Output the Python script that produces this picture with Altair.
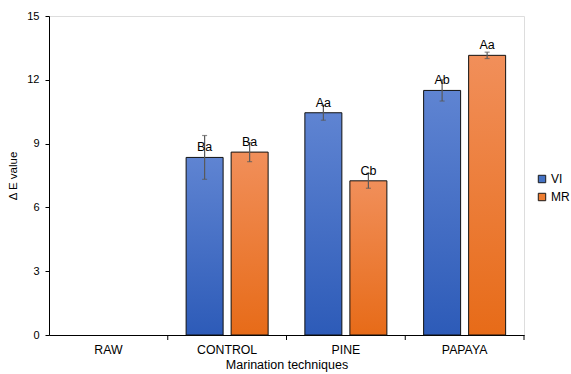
import altair as alt
import pandas as pd

categories = ["RAW", "CONTROL", "PINE", "PAPAYA"]
series = ["VI", "MR"]
bar_cats = ["CONTROL", "CONTROL", "PINE", "PINE", "PAPAYA", "PAPAYA"]
bar_series = ["VI", "MR", "VI", "MR", "VI", "MR"]
values = [8.35, 8.6, 10.45, 7.25, 11.5, 13.15]
errors = [1.03, 0.45, 0.35, 0.35, 0.5, 0.15]
letters = ["Ba", "Ba", "Aa", "Cb", "Ab", "Aa"]

df = pd.DataFrame({
    "cat": bar_cats, "series": bar_series, "value": values,
    "err": errors, "label": letters,
})
df["lo"] = df["value"] - df["err"]
df["hi"] = df["value"] + df["err"]
cats_df = pd.DataFrame({"cat": categories})

FONT = "Liberation Sans"
W, H = 475, 319

x = alt.X("cat:N", scale=alt.Scale(domain=categories, paddingInner=0, paddingOuter=0),
          axis=alt.Axis(title="Marination techniques", labelAngle=0, ticks=False,
                        domainColor="#000000", labelColor="#000000", labelFontSize=12.3,
                        labelFont=FONT, titleFont=FONT, titleFontSize=12.5,
                        titleFontWeight="normal", titleColor="#000000",
                        labelPadding=8, titlePadding=3))
xo = alt.XOffset("series:N", scale=alt.Scale(domain=series, paddingInner=0.178, paddingOuter=0.408))
y = alt.Y("value:Q", scale=alt.Scale(domain=[0, 15], nice=False),
          axis=alt.Axis(title="\u0394 E value", values=[0, 3, 6, 9, 12, 15], grid=False,
                        domainColor="#000000", tickColor="#000000", tickSize=4,
                        labelColor="#000000", labelFontSize=11, labelFont=FONT,
                        titleFont=FONT, titleFontSize=11.5, titleFontWeight="normal",
                        titleColor="#000000", labelPadding=6, titlePadding=8))
color = alt.Color("series:N", scale=alt.Scale(domain=series, range=["#4472C4", "#ED7D31"]),
                  legend=alt.Legend(title=None, orient="none", legendX=487, legendY=157,
                                    symbolType="square", symbolSize=55,
                                    symbolStrokeColor="#1a1a1a", symbolStrokeWidth=1,
                                    labelFont=FONT, labelFontSize=12, labelColor="#000000",
                                    rowPadding=6, labelOffset=3))

def grad(top, bottom):
    return alt.Gradient(gradient="linear",
                        stops=[alt.GradientStop(color=top, offset=0),
                               alt.GradientStop(color=bottom, offset=1)],
                        x1=0, x2=0, y1=0, y2=1)

base = alt.Chart(df)
vi_bars = base.transform_filter(alt.datum.series == "VI").mark_bar(
    fill=grad("#5f84d2", "#2d5bb8"), stroke="#111111", strokeWidth=1
).encode(x=x, xOffset=xo, y=y, color=color)
mr_bars = base.transform_filter(alt.datum.series == "MR").mark_bar(
    fill=grad("#f18f5a", "#e76b18"), stroke="#111111", strokeWidth=1
).encode(x=x, xOffset=xo, y=y, color=color)

err_rule = base.mark_rule(color="#595959", strokeWidth=1.2).encode(
    x=x, xOffset=xo, y="lo:Q", y2="hi:Q")
cap_lo = base.mark_tick(color="#595959", size=5, thickness=1.2).encode(
    x=x, xOffset=xo, y="lo:Q")
cap_hi = base.mark_tick(color="#595959", size=5, thickness=1.2).encode(
    x=x, xOffset=xo, y="hi:Q")
labels = base.mark_text(font=FONT, fontSize=12.5, color="#000000", baseline="middle", dy=-10).encode(
    x=x, xOffset=xo, y="value:Q", text="label:N")

ticks = alt.Chart(cats_df).mark_rule(color="#000000").encode(
    x=alt.X("cat:N", bandPosition=1, scale=alt.Scale(domain=categories)),
    y=alt.value(H), y2=alt.value(H + 5))

chart = alt.layer(vi_bars, mr_bars, err_rule, cap_lo, cap_hi, labels, ticks).properties(
    width=W, height=H, autosize=alt.AutoSizeParams(type="none"),
    padding={"left": 49, "top": 16, "right": 47, "bottom": 39},
).configure_view(stroke=None).configure(background="#ffffff")

chart.save("out.html", embed_options={"renderer": "svg", "actions": False})
